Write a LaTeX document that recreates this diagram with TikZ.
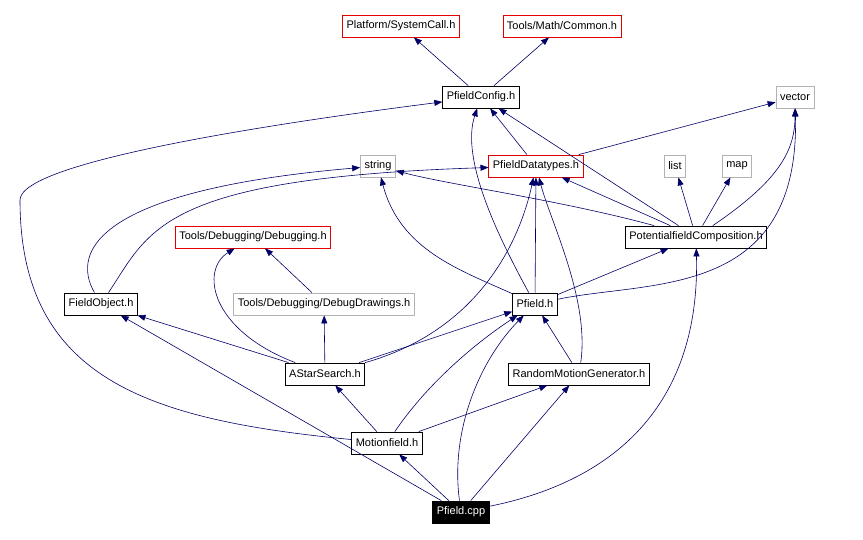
\documentclass[tikz,border=0pt]{standalone}
\usepackage{fontspec}
\setmainfont{Liberation Sans}
\usetikzlibrary{arrows.meta}
\tikzset{
    hdr/.style={draw=black, line width=0.8pt, rectangle, inner xsep=4pt, inner ysep=2pt, minimum height=22pt, font=\fontsize{11}{13}\selectfont},
    hdr red/.style={hdr, draw=red!90!black},
    hdr grey/.style={hdr, draw=black!30},
    hdr main/.style={hdr, fill=black, text=white},
    dep/.style={draw=blue!40!black, line width=0.6pt, -{Triangle[length=8pt,width=6pt]}},
}
\begin{document}
\begin{tikzpicture}[x=1pt, y=-1pt]
\useasboundingbox (0,0) rectangle (863,540);
% header nodes
\node[hdr red] (syscall) at (401,26) {Platform/SystemCall.h};
\node[hdr red] (common) at (562,26) {Tools/Math/Common.h};
\node[hdr] (config) at (481,97) {PfieldConfig.h};
\node[hdr grey] (vector) at (795,97) {vector};
\node[hdr grey] (string) at (378,166) {string};
\node[hdr red] (types) at (536,166) {PfieldDatatypes.h};
\node[hdr grey] (list) at (675,166) {list};
\node[hdr grey] (map) at (737,166) {map};
\node[hdr red] (debugging) at (253,237) {Tools/Debugging/Debugging.h};
\node[hdr] (composition) at (696,237) {PotentialfieldComposition.h};
\node[hdr] (fieldobject) at (101,304) {FieldObject.h};
\node[hdr grey] (drawings) at (324,304) {Tools/Debugging/DebugDrawings.h};
\node[hdr] (pfieldh) at (535,304) {Pfield.h};
\node[hdr] (astar) at (325,374) {AStarSearch.h};
\node[hdr] (random) at (579,374) {RandomMotionGenerator.h};
\node[hdr] (motionfield) at (387,443) {Motionfield.h};
\node[hdr main] (pfieldcpp) at (461,512) {Pfield.cpp};

% includes
\draw[dep] (config) -- (syscall);
\draw[dep] (config) -- (common);
\draw[dep] (types) -- (config);
\draw[dep] (types) -- (vector);
\draw[dep] (composition) -- (config);
\draw[dep] (composition) .. controls (560,200) and (450,185) .. (string);
\draw[dep] (composition) -- (types);
\draw[dep] (composition) -- (list);
\draw[dep] (composition) -- (map);
\draw[dep] (composition) .. controls (780,180) and (795,150) .. (vector);
\draw[dep] (fieldobject) .. controls (70,250) and (100,190) .. (string);
\draw[dep] (fieldobject) .. controls (150,230) and (160,178) .. (types);
\draw[dep] (drawings) -- (debugging);
\draw[dep] (pfieldh) .. controls (500,240) and (460,160) .. (config);
\draw[dep] (pfieldh) .. controls (460,270) and (400,250) .. (string);
\draw[dep] (pfieldh) -- (types);
\draw[dep] (pfieldh) -- (composition);
\draw[dep] (pfieldh) .. controls (650,280) and (800,300) .. (vector);
\draw[dep] (astar) -- (fieldobject);
\draw[dep] (astar) .. controls (210,330) and (200,270) .. (debugging);
\draw[dep] (astar) -- (drawings);
\draw[dep] (astar) -- (pfieldh);
\draw[dep] (astar) .. controls (480,330) and (520,240) .. (types);
\draw[dep] (random) -- (pfieldh);
\draw[dep] (random) .. controls (590,300) and (550,220) .. (types);
\draw[dep] (motionfield) -- (astar);
\draw[dep] (motionfield) .. controls (430,380) and (480,340) .. (pfieldh);
\draw[dep] (motionfield) -- (random);
\draw[dep] (motionfield) .. controls (150,420) and (20,380) .. (20,200) .. controls (20,160) and (300,120) .. (config);
\draw[dep] (pfieldcpp) -- (fieldobject);
\draw[dep] (pfieldcpp) -- (motionfield);
\draw[dep] (pfieldcpp) -- (random);
\draw[dep] (pfieldcpp) .. controls (450,430) and (480,360) .. (pfieldh);
\draw[dep] (pfieldcpp) .. controls (620,480) and (700,400) .. (composition);
\end{tikzpicture}
\end{document}
